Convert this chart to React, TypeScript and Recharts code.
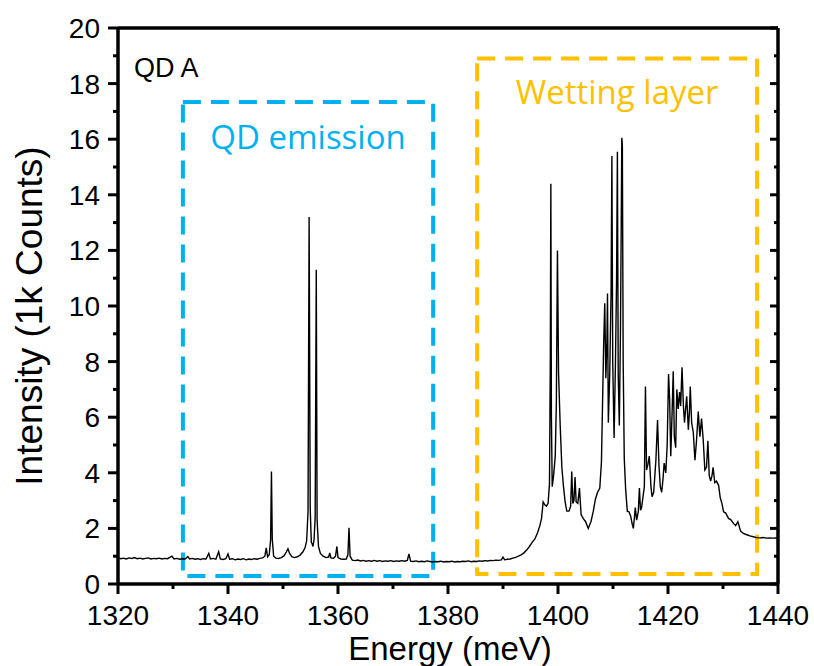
import React from 'react';
import {
  LineChart,
  Line,
  XAxis,
  YAxis,
  ReferenceArea,
  ReferenceDot,
} from 'recharts';

// Photoluminescence spectrum of QD A: energy (meV) and intensity (1k counts)
// QD emission range
const qdEnergy = [
  1320, 1320.5, 1321, 1321.5, 1322, 1322.5, 1323, 1323.5, 1324, 1324.5, 1325, 1325.5,
  1326, 1326.5, 1327, 1327.5, 1328, 1328.5, 1329, 1329.8, 1330.2, 1330.7, 1331.2, 1331.7,
  1332.2, 1332.7, 1333, 1333.5, 1334, 1334.5, 1335, 1335.5, 1336, 1336.5, 1336.8, 1337.3,
  1337.8, 1338.3, 1338.6, 1339.1, 1339.6, 1340, 1340.3, 1340.8, 1341.3, 1341.8, 1342.3,
  1342.8, 1343.3, 1343.8, 1344.3, 1344.8, 1345.3, 1345.8, 1346.3, 1346.7, 1346.95, 1347.2,
  1347.5, 1347.75, 1347.9, 1348.05, 1348.3, 1348.7, 1349.2, 1349.7, 1350.2, 1350.6, 1350.9,
  1351.2, 1351.6, 1352.1, 1352.6, 1353.1, 1353.6, 1354, 1354.3, 1354.55, 1354.75, 1354.95,
  1355.15, 1355.3, 1355.45, 1355.65, 1355.85, 1356.05, 1356.2, 1356.45, 1356.8, 1357.3,
  1357.8, 1358.3, 1358.5, 1358.7, 1359.2, 1359.55, 1359.8, 1360, 1360.5, 1361, 1361.5,
  1361.8, 1362, 1362.2, 1362.6, 1363.1, 1363.6, 1364.1, 1364.6, 1365.1, 1365.6, 1366.1,
  1366.6, 1367.1, 1367.6, 1368.1, 1368.6, 1369.1, 1369.6, 1370.1, 1370.6, 1371.1, 1371.6,
  1372.1, 1372.6, 1372.9, 1373.2, 1373.7, 1374.2, 1374.7, 1375.2, 1375.7, 1376.2, 1376.7,
  1377.2, 1377.7, 1378.2, 1378.7, 1379.2, 1379.7, 1380.2, 1380.7, 1381.2, 1381.7, 1382.2,
  1382.7, 1383.2, 1383.7, 1384.2, 1384.7,
];
const qdIntensity = [
  0.94, 0.91, 0.93, 0.9, 0.94, 0.92, 0.95, 0.91, 0.93, 0.9, 0.92, 0.94,
  0.9, 0.92, 0.91, 0.93, 0.9, 0.92, 0.91, 1.0, 0.9, 0.92, 0.89, 0.91,
  0.9, 0.99, 0.9, 0.92, 0.89, 0.91, 0.88, 0.91, 0.9, 1.1, 0.9, 0.92,
  0.89, 1.16, 0.9, 0.88, 0.91, 1.08, 0.89, 0.91, 0.87, 0.9, 0.88,
  0.91, 0.87, 0.9, 0.88, 0.91, 0.89, 0.92, 0.94, 1.0, 1.3, 0.98,
  1.05, 1.6, 4.05, 1.6, 1.0, 0.93, 0.92, 0.95, 1.02, 1.15, 1.27,
  1.1, 0.98, 0.95, 0.98, 1.04, 1.15, 1.3, 1.55, 2.6, 13.2, 2.7,
  1.5, 1.45, 1.35, 1.6, 2.4, 11.3, 2.3, 1.35, 1.1, 1.0,
  0.95, 0.97, 1.12, 0.94, 0.93, 1.0, 1.35, 0.95, 0.9, 0.89, 0.9,
  1.05, 2.02, 1.0, 0.86, 0.84, 0.86, 0.83, 0.85, 0.82, 0.84, 0.82,
  0.85, 0.82, 0.84, 0.81, 0.83, 0.82, 0.84, 0.81, 0.83, 0.82, 0.84,
  0.82, 0.85, 1.08, 0.82, 0.81, 0.83, 0.8, 0.82, 0.8, 0.83, 0.81,
  0.79, 0.81, 0.8, 0.82, 0.79, 0.81, 0.8, 0.82, 0.79, 0.81, 0.8,
  0.82, 0.81, 0.83, 0.8, 0.82,
];

// Wetting layer range
const wlEnergy = [
  1385.2, 1385.7, 1386.2, 1386.7, 1387.2, 1387.7, 1388.2, 1388.7, 1389.2, 1389.7, 1390,
  1390.3, 1390.8, 1391.3, 1391.8, 1392.3, 1392.8, 1393.3, 1393.8, 1394.3, 1394.8, 1395.3,
  1395.8, 1396.3, 1396.7, 1397, 1397.3, 1397.6, 1397.9, 1398.2, 1398.45, 1398.6, 1398.7,
  1398.8, 1398.95, 1399.2, 1399.5, 1399.7, 1399.9, 1400.1, 1400.4, 1400.7, 1401, 1401.3,
  1401.6, 1402, 1402.3, 1402.5, 1402.7, 1402.9, 1403.1, 1403.3, 1403.6, 1403.9, 1404.2,
  1404.6, 1405, 1405.5, 1406, 1406.4, 1406.8, 1407.2, 1407.6, 1407.9, 1408.1, 1408.3,
  1408.5, 1408.7, 1408.9, 1409, 1409.15, 1409.4, 1409.65, 1409.8, 1409.95, 1410.2, 1410.45,
  1410.65, 1410.8, 1410.95, 1411.15, 1411.35, 1411.5, 1411.6, 1411.7, 1411.85, 1412.05,
  1412.3, 1412.6, 1412.9, 1413.2, 1413.5, 1413.7, 1413.9, 1414.05, 1414.3, 1414.6, 1414.8,
  1415, 1415.2, 1415.4, 1415.7, 1415.9, 1416.1, 1416.35, 1416.6, 1416.9, 1417.1, 1417.4,
  1417.8, 1418.1, 1418.35, 1418.6, 1418.85, 1419.1, 1419.3, 1419.6, 1419.85, 1420.1, 1420.3,
  1420.5, 1420.75, 1420.95, 1421.15, 1421.4, 1421.6, 1421.85, 1422.1, 1422.3, 1422.55,
  1422.8, 1423, 1423.2, 1423.4, 1423.7, 1423.9, 1424.05, 1424.3, 1424.6, 1424.9, 1425.2,
  1425.5, 1425.8, 1426.1, 1426.4, 1426.7, 1427, 1427.25, 1427.5, 1427.75, 1428, 1428.2,
  1428.5, 1428.8, 1429.2, 1429.5, 1429.8, 1430.1, 1430.5, 1431, 1431.4, 1431.9, 1432.3,
  1432.7, 1433.2, 1433.7, 1434.2, 1434.9, 1435.5, 1436.1, 1436.7, 1437.3, 1437.9, 1438.5,
  1439.1, 1439.6, 1440,
];
const wlIntensity = [
  0.81, 0.83, 0.82, 0.84, 0.83, 0.85, 0.84, 0.86, 0.85, 0.87, 0.97,
  0.87, 0.89, 0.9, 0.93, 0.96, 1.0, 1.05, 1.12, 1.22, 1.35, 1.5,
  1.62, 1.85, 2.1, 2.35, 2.95, 2.85, 2.8, 2.9, 3.6, 8.0, 14.4,
  6.0, 3.5, 3.9, 4.6, 6.5, 12.0, 7.6, 5.7, 4.2, 3.5, 2.95,
  2.62, 2.62, 2.8, 4.05, 2.9, 3.0, 3.85, 2.95, 2.9, 3.45, 2.5,
  2.35, 2.25, 2.0, 2.25, 2.6, 3.05, 3.3, 3.45, 4.4, 6.5, 8.6,
  10.1, 7.4, 8.8, 10.45, 5.8, 7.5, 10.5, 15.4, 8.0, 5.25, 8.0,
  11.0, 15.55, 7.5, 5.7, 9.0, 13.0, 16.05, 15.8, 8.0, 4.5,
  3.4, 2.62, 2.6, 2.45, 2.15, 2.0, 2.4, 2.75, 2.3, 2.6, 3.45,
  2.65, 2.75, 3.05, 3.5, 7.1, 4.1, 4.3, 4.6, 3.5, 3.14, 3.3,
  4.45, 5.9, 4.3, 3.5, 3.3, 3.8, 4.35, 4.0, 5.0, 7.55, 6.6,
  4.6, 6.2, 7.65, 5.3, 4.9, 7.0, 6.3, 6.9, 6.4, 7.8,
  6.4, 5.8, 6.3, 6.75, 5.55, 6.2, 7.1, 5.8, 5.45, 4.45, 5.2,
  6.2, 5.3, 5.95, 5.2, 4.1, 4.2, 5.15, 3.9, 3.7, 3.9, 4.2,
  3.65, 3.7, 3.55, 3.1, 2.9, 2.6, 2.55, 2.36, 2.32, 2.18, 2.1,
  2.24, 1.9, 1.82, 1.78, 1.73, 1.7, 1.67, 1.66, 1.67, 1.65, 1.66,
  1.65, 1.66, 1.65,
];

const energyTicks = [1320, 1330, 1340, 1350, 1360, 1370, 1380, 1390, 1400, 1410, 1420, 1430, 1440];
const intensityTicks = [0, 1, 2, 3, 4, 5, 6, 7, 8, 9, 10, 11, 12, 13, 14, 15, 16, 17, 18, 19, 20];

// Highlighted spectral windows: [eMin, eMax, iMin, iMax]
const qdBox = [1331.8, 1377.3, 0.29, 17.34];
const wlBox = [1385.3, 1436.2, 0.36, 18.9];

const spectrum = [
  ...qdEnergy.map((e, k) => ({ e, i: qdIntensity[k] })),
  ...wlEnergy.map((e, k) => ({ e, i: wlIntensity[k] })),
];

const FONT = '"Liberation Sans", Arial, sans-serif';
const BLUE = '#00b0f0';
const YELLOW = '#ffc000';
const MAJOR = 10;
const MINOR = 5;
const TICK_W = 3;

const BottomTick = (props: any) => {
  const { x, y, payload } = props;
  const major = payload.value % 20 === 0;
  return (
    <g>
      <line x1={x} x2={x} y1={y} y2={y + (major ? MAJOR : MINOR)} stroke="#000" strokeWidth={TICK_W} />
      {major && (
        <text x={x} y={y + 41} textAnchor="middle" fontSize={28} fontFamily={FONT} fill="#000">
          {payload.value}
        </text>
      )}
    </g>
  );
};

const TopTick = (props: any) => {
  const { x, y, payload } = props;
  const major = payload.value % 20 === 0;
  return <line x1={x} x2={x} y1={y} y2={y + (major ? MAJOR - 2 : MINOR - 1)} stroke="#000" strokeWidth={TICK_W} />;
};

const LeftTick = (props: any) => {
  const { x, y, payload } = props;
  const major = payload.value % 2 === 0;
  return (
    <g>
      <line x1={x} x2={x - (major ? MAJOR : MINOR)} y1={y} y2={y} stroke="#000" strokeWidth={TICK_W} />
      {major && (
        <text x={x - 18} y={y} dy="0.36em" textAnchor="end" fontSize={28} fontFamily={FONT} fill="#000">
          {payload.value}
        </text>
      )}
    </g>
  );
};

const RightTick = (props: any) => {
  const { x, y, payload } = props;
  const major = payload.value % 2 === 0;
  return <line x1={x} x2={x - (major ? MAJOR - 2 : MINOR - 1)} y1={y} y2={y} stroke="#000" strokeWidth={TICK_W} />;
};

const XTitle = (props: any) => {
  const { viewBox } = props;
  return (
    <text
      x={viewBox.x + viewBox.width / 2 + 2}
      y={viewBox.y + viewBox.height - 6}
      textAnchor="middle"
      fontSize={33}
      fontFamily={FONT}
      fill="#000"
    >
      Energy (meV)
    </text>
  );
};

const YTitle = (props: any) => {
  const { viewBox } = props;
  const cx = 42;
  const cy = viewBox.y + viewBox.height / 2 + 10;
  return (
    <text
      x={cx}
      y={cy}
      transform={`rotate(-90, ${cx}, ${cy})`}
      textAnchor="middle"
      fontSize={37}
      fontFamily={FONT}
      fill="#000"
    >
      Intensity (1k Counts)
    </text>
  );
};

const axisLine = { stroke: '#000', strokeWidth: 3.5 };
const boxLabel = { position: 'insideTop' as const, fontSize: 33, fontFamily: '"Open Sans", sans-serif' };

export default function App() {
  return (
    <div style={{ position: 'absolute', left: 0, top: 0, width: 814, height: 666, background: '#fff' }}>
      <LineChart
        width={814}
        height={666}
        data={spectrum}
        margin={{ top: 27, right: 35, bottom: 0, left: 0 }}
      >
        <XAxis
          dataKey="e"
          type="number"
          domain={[1320, 1440]}
          allowDataOverflow
          ticks={energyTicks}
          interval={0}
          height={82}
          tickSize={0}
          tickMargin={0}
          tickLine={false}
          axisLine={axisLine}
          tick={<BottomTick />}
          label={<XTitle />}
        />
        <XAxis
          xAxisId="top"
          orientation="top"
          type="number"
          domain={[1320, 1440]}
          allowDataOverflow
          ticks={energyTicks}
          interval={0}
          height={1}
          tickSize={0}
          tickMargin={0}
          tickLine={false}
          axisLine={axisLine}
          tick={<TopTick />}
        />
        <YAxis
          type="number"
          domain={[0, 20]}
          allowDataOverflow
          ticks={intensityTicks}
          interval={0}
          width={118}
          tickSize={0}
          tickMargin={0}
          tickLine={false}
          axisLine={axisLine}
          tick={<LeftTick />}
          label={<YTitle />}
        />
        <YAxis
          yAxisId="right"
          orientation="right"
          type="number"
          domain={[0, 20]}
          allowDataOverflow
          ticks={intensityTicks}
          interval={0}
          width={1}
          tickSize={0}
          tickMargin={0}
          tickLine={false}
          axisLine={axisLine}
          tick={<RightTick />}
        />
        <ReferenceArea
          x1={qdBox[0]}
          x2={qdBox[1]}
          y1={qdBox[2]}
          y2={qdBox[3]}
          fill="none"
          fillOpacity={0}
          stroke={BLUE}
          strokeWidth={4}
          strokeDasharray="18 10"
          label={{ ...boxLabel, value: 'QD emission', offset: 24, fill: BLUE }}
        />
        <ReferenceArea
          x1={wlBox[0]}
          x2={wlBox[1]}
          y1={wlBox[2]}
          y2={wlBox[3]}
          fill="none"
          fillOpacity={0}
          stroke={YELLOW}
          strokeWidth={4}
          strokeDasharray="18 10"
          label={{ ...boxLabel, value: 'Wetting layer', offset: 22, fill: YELLOW }}
        />
        <ReferenceDot
          x={1322.9}
          y={18.6}
          r={0}
          fill="none"
          stroke="none"
          label={{ value: 'QD A', position: 'right', offset: 0, fontSize: 27, fontFamily: FONT, fill: '#000' }}
        />
        <Line
          type="linear"
          dataKey="i"
          stroke="#000"
          strokeWidth={1.4}
          dot={false}
          isAnimationActive={false}
        />
      </LineChart>
    </div>
  );
}
